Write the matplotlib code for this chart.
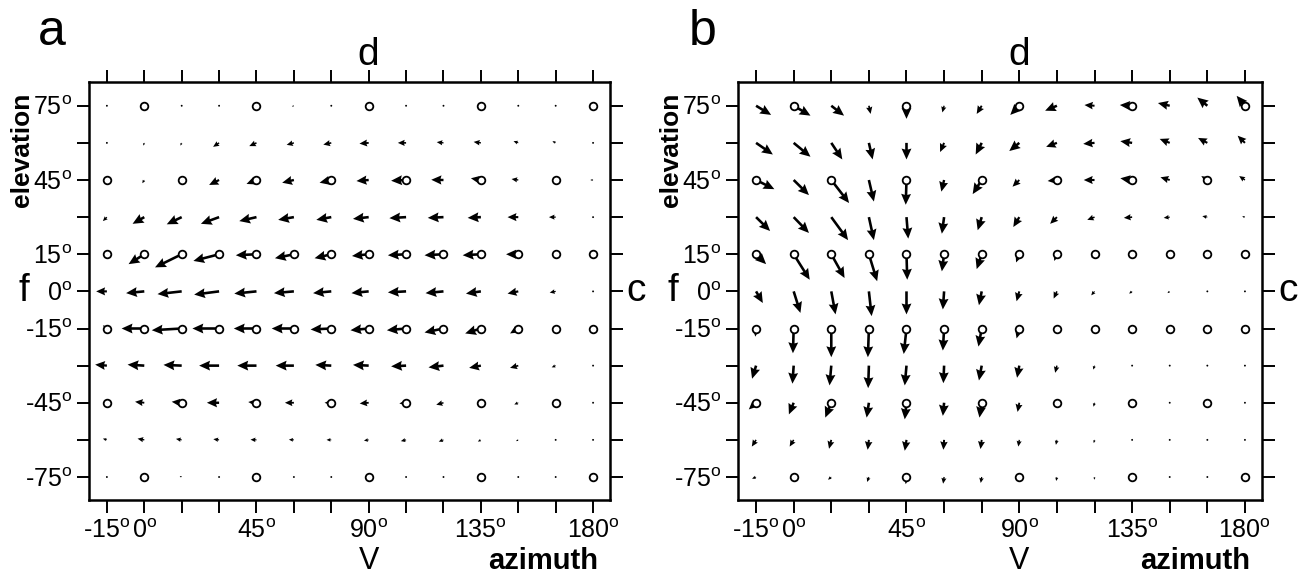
import numpy as np
import matplotlib
matplotlib.use("Agg")
import matplotlib.pyplot as plt

plt.rcParams['font.family'] = ['Liberation Sans', 'DejaVu Sans']
plt.rcParams['mathtext.fontset'] = 'custom'
plt.rcParams['mathtext.rm'] = 'Liberation Sans'

# grid (degrees)
azimuth = [-15, 0, 15, 30, 45, 60, 75, 90, 105, 120, 135, 150, 165, 180]
elevation = [75, 60, 45, 30, 15, 0, -15, -30, -45, -60, -75]

# sampled directions (open circles): elevation -> azimuths
samples = {
    75: [0, 45, 90, 135, 180],
    45: [-15, 15, 45, 75, 105, 135, 165],
    15: azimuth,
    -15: azimuth,
    -45: [-15, 15, 45, 75, 105, 135, 165],
    -75: [0, 45, 90, 135, 180],
}

# panel a: arrow components in degrees, rows = elevation 75 .. -75
u_a = [
    [-0.1, 0, -0.3, -0.7, -0.3, -0.8, -0.5, 0, -0.8, -0.7, 0, -0.7, -0.1, 0],
    [-0.1, -0.4, -0.5, -2.4, -2.9, -2.9, -3.2, -3.7, -3.3, -2.7, -2.9, -1.9, -1.3, -0.4],
    [0, -0.8, -0.7, -4.0, -4.0, -4.7, -4.7, -4.9, -6.0, -4.9, -4.0, -2.7, -0.4, -1.1],
    [-1.6, -4.7, -6.0, -7.3, -6.9, -6.3, -6.0, -6.3, -6.7, -6.3, -5.3, -4.3, -2.7, -0.8],
    [-0.5, -6.3, -10.7, -10.3, -8.3, -7.6, -6.7, -6.7, -7.3, -7.6, -7.3, -4.9, -0.7, 0],
    [-4.3, -7.3, -9.7, -10.0, -8.9, -8.0, -7.3, -6.9, -7.3, -7.2, -6.0, -4.3, -2.4, -0.7],
    [-1.6, -9.1, -12.0, -10.7, -9.1, -8.9, -8.3, -7.3, -7.7, -7.6, -6.3, -3.3, 0, 0],
    [-4.7, -6.7, -7.3, -8.0, -7.7, -7.3, -6.4, -6.3, -6.0, -6.0, -4.7, -3.3, -1.6, -0.4],
    [-0.7, -3.7, -4.0, -4.9, -3.3, -3.6, -2.7, -3.6, -2.7, -2.9, -1.1, -1.6, 0, -0.3],
    [-1.6, -2.7, -2.3, -2.3, -2.4, -2.0, -1.9, -1.9, -2.1, -1.9, -1.2, -0.9, -0.4, -0.3],
    [-0.7, 0, -0.8, -0.3, 0, -0.3, -0.4, 0, -0.5, -0.4, 0, -0.3, -0.1, 0],
]
v_a = [
    [-0.7, 0, -0.7, -0.4, -0.1, -0.3, -0.1, 0, 0, 0.3, 0, 0.4, -0.1, 0],
    [-0.8, -1.1, -1.1, -1.6, -1.3, -0.8, -0.7, -0.3, 0, 0.3, 0.4, 0.7, 0.7, 0],
    [-0.3, -1.3, -1.6, -2.0, -1.6, -1.1, -1.1, -0.4, -0.3, 0.1, 0.7, 0.4, 0, 0],
    [-1.6, -2.7, -2.9, -2.7, -1.6, -1.1, -1.1, -0.7, -0.4, -0.3, -0.3, 0, 0, 0],
    [-1.1, -4.0, -5.3, -2.7, -0.4, -1.6, -1.6, -0.7, -0.4, -0.4, -0.4, 0, 0, 0],
    [0, -0.7, -1.1, -1.3, -0.9, -0.7, -0.7, -0.7, -0.4, -0.7, -0.9, -0.9, -0.5, 0],
    [1.3, 0, -0.7, 0, 0, 0, -0.4, -0.7, -0.7, -1.6, -2.0, -2.0, 0, 0],
    [0.4, 0.4, 0.3, 0, 0, 0, 0.3, 0.3, -0.3, -0.7, -0.9, -0.9, -0.7, 0],
    [0, 0.4, 0.4, 0, 0.3, 0, 0, -0.3, -0.3, -0.8, -0.7, -0.7, 0, 0],
    [0.5, 0.5, 0.4, 0.3, 0.1, 0.1, 0, -0.3, -0.5, -0.7, -0.7, -0.5, -0.3, 0],
    [0.4, 0, 0.4, 0, 0, 0, 0, 0, -0.3, -0.3, 0, 0, -0.3, 0],
]

# panel b
u_b = [
    [6.0, 6.7, 5.1, 0.7, 0, -0.7, -2.0, -3.6, -4.7, -4.0, -4.9, -4.7, -4.0, -3.3],
    [6.7, 6.7, 4.4, 1.5, 0, -1.6, -2.4, -4.0, -4.3, -4.5, -4.7, -4.0, -3.7, -2.9],
    [7.3, 6.1, 7.1, 2.0, -0.3, -1.1, -3.6, -2.7, -3.7, -4.3, -4.7, -3.7, -2.4, -2.3],
    [5.6, 6.1, 6.7, 2.0, 0.7, -0.9, -1.6, -2.4, -2.7, -2.9, -3.3, -2.4, -2.0, -1.1],
    [4.0, 6.4, 5.3, 3.3, 0.3, -0.9, -2.0, -1.3, -1.1, -1.3, -1.1, -1.3, 0, 0],
    [2.7, 2.7, 1.7, 1.1, 0, -0.5, -1.1, -1.1, -1.3, -1.3, -1.2, -0.9, -0.4, -0.3],
    [-0.3, -0.3, 0, -0.4, -1.1, -0.5, -1.3, -1.1, -1.1, -1.6, 0, 0, 0, 0],
    [-1.6, -0.5, -0.7, -0.3, -0.7, -0.3, -1.1, -0.9, -0.7, -0.5, -0.3, -0.3, -0.1, 0],
    [-2.9, -1.9, -2.4, -0.9, -0.7, -0.5, -0.9, -0.7, -0.4, -0.4, 0, -0.1, 0, 0],
    [-1.7, -1.6, -0.9, -0.5, -0.7, -0.3, -0.5, -0.4, -0.4, -0.3, 0, 0, 0, 0],
    [-1.6, -1.6, -1.3, -0.7, -0.3, -0.4, -0.4, -0.3, -0.3, -0.1, 0, 0, 0, 0],
]
v_b = [
    [-3.7, -4.0, -4.0, -3.3, -5.3, -2.7, -3.3, -3.7, -2.0, 0.3, 0.3, 1.1, 3.3, 4.0],
    [-4.7, -5.6, -6.7, -6.7, -6.7, -3.7, -4.7, -3.3, -1.6, -0.4, 0.7, 1.6, 2.0, 2.9],
    [-3.7, -6.1, -9.3, -8.7, -10.0, -4.7, -5.7, -2.7, -0.4, 0, 0.7, 1.1, 1.6, 1.6],
    [-5.6, -6.4, -9.3, -9.3, -8.7, -6.7, -5.3, -4.0, -2.7, -1.1, -0.3, -0.3, 0.4, 0.3],
    [-4.0, -10.3, -9.6, -10.9, -10.3, -6.9, -6.0, -3.3, -2.7, -1.3, -0.7, -1.1, 0, 0],
    [-4.7, -8.7, -9.3, -10.0, -9.3, -7.3, -5.6, -4.0, -2.9, -1.6, -0.9, -0.7, -0.3, -0.1],
    [-3.3, -10.0, -11.6, -11.6, -10.3, -8.9, -7.3, -4.0, -0.7, -0.7, 0, 0, 0, 0],
    [-5.3, -7.3, -8.0, -9.1, -8.0, -7.1, -6.0, -4.9, -2.9, -1.6, -0.7, -0.7, -0.3, -0.1],
    [-2.7, -4.7, -6.0, -6.0, -6.7, -5.3, -6.0, -3.7, -1.6, -1.6, -0.7, -0.4, 0, -0.1],
    [-2.7, -2.7, -3.6, -4.0, -4.4, -4.0, -3.7, -2.7, -2.0, -1.3, -0.7, -0.4, -0.3, -0.1],
    [-0.7, -0.7, -1.1, -2.0, -2.9, -2.7, -2.4, -2.0, -1.6, -1.1, 0, -0.3, -0.1, 0],
]

deg = r'$^{\rm o}$'
x_labels = {-15: '-15' + deg, 0: '0' + deg, 45: '45' + deg, 90: '90' + deg,
            135: '135' + deg, 180: '180' + deg}
y_labels = {75: '75' + deg, 45: '45' + deg, 15: '15' + deg, 0: '0' + deg,
            -15: '-15' + deg, -45: '-45' + deg, -75: '-75' + deg}


def draw_panel(ax, u, v):
    X, Y = np.meshgrid(azimuth, elevation)
    ax.quiver(X, Y, np.array(u), np.array(v), angles='xy', scale_units='xy', scale=1,
              units='dots', width=2.6, headwidth=3.8, headlength=4.2, headaxislength=3.8,
              minshaft=1.2, minlength=0.8, color='black', zorder=2)
    for el, azs in samples.items():
        ax.plot(azs, [el] * len(azs), 'o', ms=5.5, mfc='white', mec='black', mew=1.3,
                zorder=3, clip_on=False)

    ax.set_xlim(-22.2, 186.8)
    ax.set_ylim(-84.3, 84.6)
    ax.set_xticks(azimuth)
    ax.set_xticklabels([x_labels.get(a, '') for a in azimuth])
    ax.set_yticks(elevation)
    ax.set_yticklabels([y_labels.get(e, '') for e in elevation])
    ax.tick_params(direction='out', length=9, width=1.4, top=True, right=True,
                   labelsize=18, pad=3)
    ax.tick_params(axis='x', pad=5)
    for s in ax.spines.values():
        s.set_linewidth(1.8)

    xt = ax.get_xaxis_transform()
    ax.text(90, 1.065, 'd', transform=xt, ha='center', va='center', fontsize=28)
    ax.text(90, -0.145, 'V', transform=xt, ha='center', va='center', fontsize=22)
    ax.text(160, -0.145, 'azimuth', transform=xt, ha='center', va='center',
            fontsize=21, fontweight='bold')
    yt = ax.get_yaxis_transform()
    ax.text(-0.125, 0, 'f', transform=yt, ha='center', va='center', fontsize=28)
    ax.text(1.05, 0, 'c', transform=yt, ha='center', va='center', fontsize=28)
    ax.text(-0.128, 57, 'elevation', transform=yt, ha='center', va='center',
            rotation=90, fontsize=19, fontweight='bold')


fig = plt.figure(figsize=(13.06, 5.75), dpi=100)
ax_a = fig.add_axes([0.0681, 0.1304, 0.399, 0.727])
ax_b = fig.add_axes([0.5651, 0.1304, 0.4012, 0.727])

draw_panel(ax_a, u_a, v_a)
draw_panel(ax_b, u_b, v_b)

fig.text(0.040, 0.945, 'a', ha='center', va='center', fontsize=36)
fig.text(0.538, 0.945, 'b', ha='center', va='center', fontsize=36)

fig.savefig('out.png', dpi=100)
